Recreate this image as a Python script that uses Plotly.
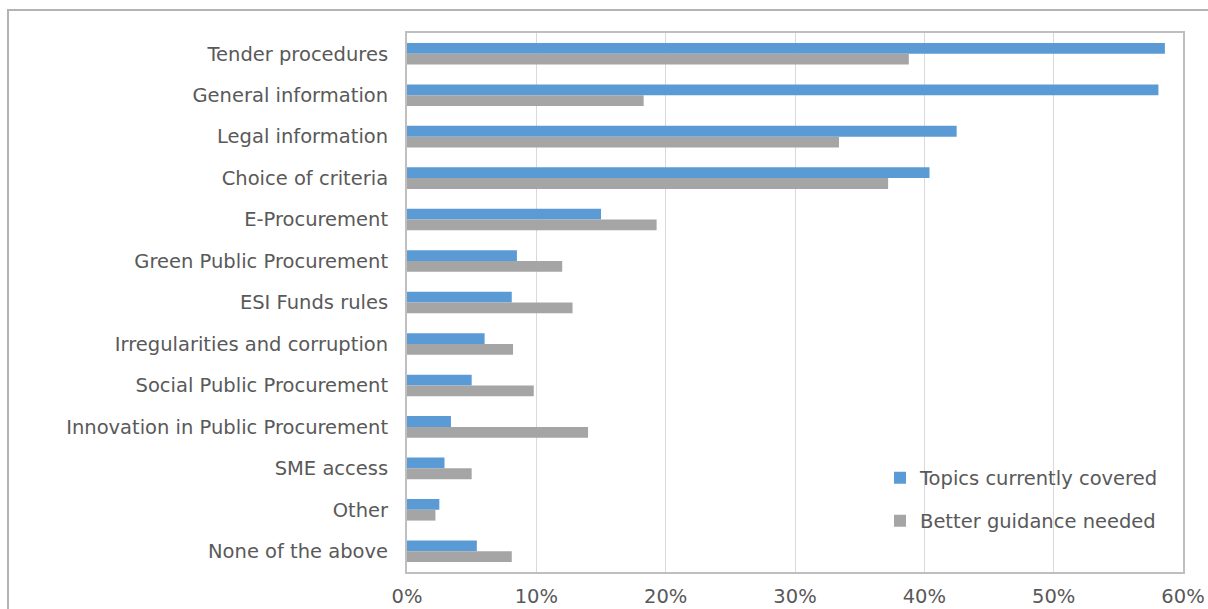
import plotly.graph_objects as go

categories = [
    "Tender procedures",
    "General information",
    "Legal information",
    "Choice of criteria",
    "E-Procurement",
    "Green Public Procurement",
    "ESI Funds rules",
    "Irregularities and corruption",
    "Social Public Procurement",
    "Innovation in Public Procurement",
    "SME access",
    "Other",
    "None of the above",
]
topics_covered = [0.586, 0.581, 0.425, 0.404, 0.150, 0.085, 0.081, 0.060, 0.050, 0.034, 0.029, 0.025, 0.054]
better_guidance = [0.388, 0.183, 0.334, 0.372, 0.193, 0.120, 0.128, 0.082, 0.098, 0.140, 0.050, 0.022, 0.081]
x_ticks = [0, 0.1, 0.2, 0.3, 0.4, 0.5, 0.6]
x_tick_labels = ["0%", "10%", "20%", "30%", "40%", "50%", "60%"]

FONT = "DejaVu Sans, Verdana, sans-serif"
FS = 19.5
TEXT = "#595959"
BLUE = "#5b9bd5"
GRAY = "#a5a5a5"

fig = go.Figure()
fig.add_trace(go.Bar(
    y=categories, x=topics_covered, orientation="h",
    name="Topics currently covered", marker=dict(color=BLUE, line=dict(width=0)),
    legend="legend",
))
fig.add_trace(go.Bar(
    y=categories, x=better_guidance, orientation="h",
    name="Better guidance needed", marker=dict(color=GRAY, line=dict(width=0)),
    legend="legend2",
))

L, R, T, B = 407, 25, 33, 37
W, H = 1208, 609
pw, ph = W - L - R, H - T - B

def px_x(x):
    return (x - L) / pw

def px_y(y):
    return (H - B - y) / ph

legend_style = dict(
    font=dict(family=FONT, size=FS, color=TEXT),
    bgcolor="rgba(0,0,0,0)", borderwidth=0,
    xanchor="left", yanchor="middle",
)

fig.update_layout(
    width=W, height=H,
    margin=dict(l=L, r=R, t=T, b=B, autoexpand=False),
    paper_bgcolor="white", plot_bgcolor="white",
    barmode="group", bargap=0.48, bargroupgap=0,
    font=dict(family=FONT, size=FS, color=TEXT),
    showlegend=True,
    legend=dict(x=px_x(880), y=px_y(478), **legend_style),
    legend2=dict(x=px_x(880), y=px_y(521), **legend_style),
    xaxis=dict(
        range=[0, 0.6], tickvals=x_ticks, ticktext=x_tick_labels,
        showgrid=True, gridcolor="#d9d9d9", gridwidth=1,
        showline=True, linecolor="#bfbfbf", linewidth=2, mirror=True,
        zeroline=False, ticks="", ticklabelstandoff=6, automargin=False,
        tickfont=dict(family=FONT, size=FS, color=TEXT),
    ),
    yaxis=dict(
        autorange="reversed",
        showgrid=False, showline=True, linecolor="#bfbfbf", linewidth=2, mirror=True,
        ticks="", ticklabelstandoff=13, automargin=False,
        tickfont=dict(family=FONT, size=FS, color=TEXT),
    ),
    shapes=[dict(
        type="rect", xref="paper", yref="paper",
        x0=px_x(8), x1=px_x(1209), y0=px_y(620), y1=px_y(10),
        line=dict(color="#b3b3b3", width=2), fillcolor="rgba(0,0,0,0)", layer="below",
    )],
)

fig.write_html("out.html")
